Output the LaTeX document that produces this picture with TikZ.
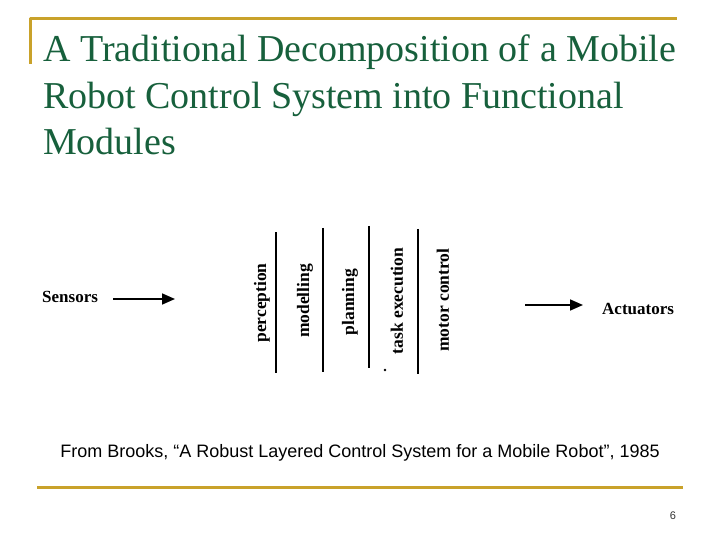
\documentclass[tikz,border=0pt]{standalone}
\usepackage{fontspec}
\setmainfont{Liberation Serif}
\setsansfont{Liberation Sans}
\usetikzlibrary{arrows.meta,positioning,calc}
\definecolor{titlegreen}{HTML}{17603C}
\definecolor{rulegold}{HTML}{C9A22A}
\tikzset{
  titleline/.style={anchor=base west, inner sep=0pt, text=titlegreen, font=\fontsize{38}{46}\selectfont},
  layer/.style={rotate=90, inner sep=0pt, font=\bfseries\fontsize{17.5}{20}\selectfont},
  io/.style={inner sep=0pt, font=\bfseries\fontsize{17}{20}\selectfont},
  goldrule/.style={rulegold, line width=3pt},
  flow/.style={-{Triangle[length=13pt,width=11pt]}, line width=1.6pt}
}
\begin{document}
\begin{tikzpicture}[x=1pt, y=-1pt, line join=round]
\useasboundingbox (0,0) rectangle (720,540);
% khung vang
\draw[goldrule] (30,64)--(30,19)--(677,19);
\draw[goldrule] (37,487)--(683,487);
% tieu de
\node[titleline] (title1) at (43,62) {A Traditional Decomposition of a Mobile};
\node[titleline] (title2) at (43,109) {Robot Control System into Functional};
\node[titleline] (title3) at (43,155) {Modules};
% cac lop chuc nang
\foreach \x/\ytop/\ybot in {276/232/373, 323/228/372, 369/226/368, 418/229/374}
  \draw[line width=1.8pt] (\x,\ytop)--(\x,\ybot);
\node[layer] (perception) at (262,303) {perception};
\node[layer] (modelling) at (305,301) {modelling};
\node[layer] (planning) at (350,302) {planning};
\node[layer] (taskexec) at (397,301) {task execution};
\node[layer] (motor) at (443,300) {motor control};
\fill (385,370) circle (1.3pt);
% vao ra
\node[io, anchor=west] (sensors) at (42,297) {Sensors};
\coordinate (sensorsend) at (175,299);
\draw[flow] ($(sensors.east)+(15,2)$) -- (sensorsend);
\node[io, anchor=west] (actuators) at (602,309) {Actuators};
\coordinate (actstart) at (525,305);
\draw[flow] (actstart) -- ($(actuators.west)+(-19,-4)$);
% trich dan
\node[font=\sffamily\fontsize{18}{21}\selectfont] (source) at (360,453)
  {From Brooks, “A Robust Layered Control System for a Mobile Robot”, 1985};
\node[font=\sffamily\fontsize{11}{13}\selectfont, text=black!80] (pagenum) at (673,516) {6};
\end{tikzpicture}
\end{document}
